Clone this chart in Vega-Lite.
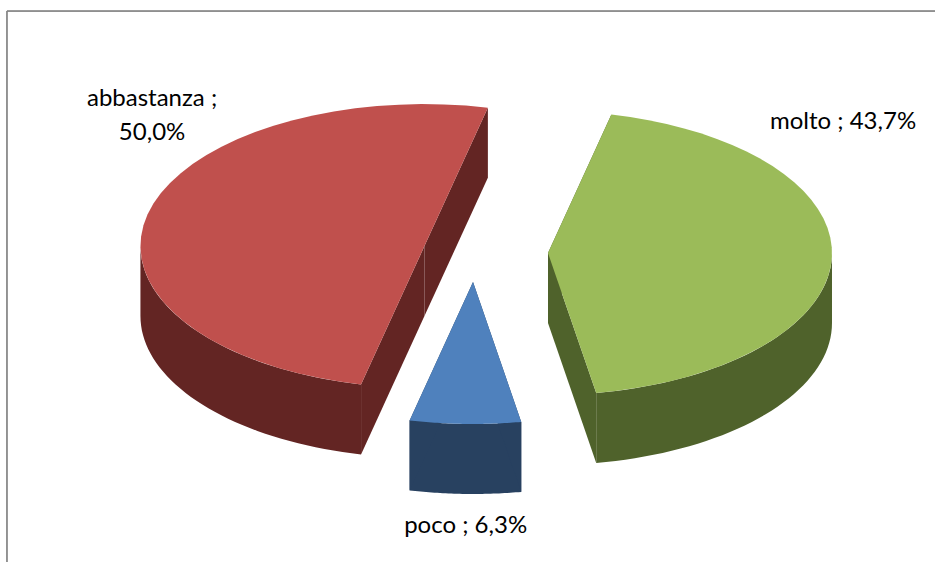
{
  "$schema": "https://vega.github.io/schema/vega-lite/v6.json",
  "width": 935,
  "height": 562,
  "padding": 0,
  "autosize": "none",
  "background": "white",
  "config": {"view": {"stroke": null}},
  "data": {"values": [
    {"category": "abbastanza", "value": 50.0},
    {"category": "molto", "value": 43.7},
    {"category": "poco", "value": 6.3}
  ]},
  "transform": [
    {"stack": "value", "groupby": [], "sort": [{"field": "category", "order": "ascending"}], "as": ["v0", "v1"]},
    {"calculate": "{'abbastanza': -0.215, 'molto': 0.22, 'poco': -0.044}[datum.category]", "as": "ex"},
    {"calculate": "{'abbastanza': 0.049, 'molto': 0, 'poco': -0.204}[datum.category]", "as": "ey"},
    {"calculate": "(192.9 + 3.6 * datum.v0) * PI / 180", "as": "a0"},
    {"calculate": "(192.9 + 3.6 * datum.v1) * PI / 180", "as": "a1"}
  ],
  "resolve": {"scale": {"fill": "independent"}},
  "layer": [
    {
      "transform": [
        {"calculate": "datum.a0 > 2 * PI ? 2 * PI : 0", "as": "wrap"},
        {"calculate": "max(datum.a0 - datum.wrap, PI / 2)", "as": "lo"},
        {"calculate": "min(datum.a1 - datum.wrap, 3 * PI / 2)", "as": "hi"},
        {"calculate": "sequence(0, 82)", "as": "i"},
        {"flatten": ["i"]},
        {"calculate": "datum.i <= 40 ? datum.i / 40 : (81 - datum.i) / 40", "as": "f"},
        {"calculate": "datum.lo + datum.f * (datum.hi - datum.lo)", "as": "ang"},
        {"calculate": "datum.ex + sin(datum.ang)", "as": "px"},
        {"calculate": "datum.ey + cos(datum.ang) - (datum.i <= 40 ? 0 : 0.493)", "as": "py"}
      ],
      "mark": {"type": "line", "filled": true, "strokeWidth": 0, "interpolate": "linear"},
      "encoding": {
        "x": {"field": "px", "type": "quantitative", "scale": {"domain": [-1.7095, 1.5827]}, "axis": null},
        "y": {"field": "py", "type": "quantitative", "scale": {"domain": [-2.176, 1.782]}, "axis": null},
        "order": {"field": "i", "type": "quantitative"},
        "fill": {"field": "category", "type": "nominal", "legend": null, "scale": {"domain": ["abbastanza", "molto", "poco"], "range": ["#632523", "#4F622B", "#284160"]}}
      }
    },
    {
      "transform": [
        {"calculate": "sequence(0, 8)", "as": "i"},
        {"flatten": ["i"]},
        {"calculate": "floor(datum.i / 4)", "as": "edge"},
        {"calculate": "datum.i % 4", "as": "j"},
        {"calculate": "datum.edge == 0 ? datum.a0 : datum.a1", "as": "ang"},
        {"calculate": "(datum.j == 1 || datum.j == 2) ? 0 : 1", "as": "r"},
        {"calculate": "datum.ex + datum.r * sin(datum.ang)", "as": "px"},
        {"calculate": "datum.ey + datum.r * cos(datum.ang) - (datum.j >= 2 ? 0.493 : 0)", "as": "py"}
      ],
      "mark": {"type": "line", "filled": true, "strokeWidth": 0, "interpolate": "linear"},
      "encoding": {
        "x": {"field": "px", "type": "quantitative", "scale": {"domain": [-1.7095, 1.5827]}, "axis": null},
        "y": {"field": "py", "type": "quantitative", "scale": {"domain": [-2.176, 1.782]}, "axis": null},
        "order": {"field": "i", "type": "quantitative"},
        "detail": {"field": "edge", "type": "nominal"},
        "fill": {"field": "category", "type": "nominal", "legend": null, "scale": {"domain": ["abbastanza", "molto", "poco"], "range": ["#632523", "#4F622B", "#284160"]}}
      }
    },
    {
      "transform": [
        {"calculate": "sequence(0, 42)", "as": "i"},
        {"flatten": ["i"]},
        {"calculate": "datum.a0 + (datum.i - 1) / 40 * (datum.a1 - datum.a0)", "as": "ang"},
        {"calculate": "datum.i == 0 ? 0 : 1", "as": "r"},
        {"calculate": "datum.ex + datum.r * sin(datum.ang)", "as": "px"},
        {"calculate": "datum.ey + datum.r * cos(datum.ang)", "as": "py"}
      ],
      "mark": {"type": "line", "filled": true, "strokeWidth": 0, "interpolate": "linear"},
      "encoding": {
        "x": {"field": "px", "type": "quantitative", "scale": {"domain": [-1.7095, 1.5827]}, "axis": null},
        "y": {"field": "py", "type": "quantitative", "scale": {"domain": [-2.176, 1.782]}, "axis": null},
        "order": {"field": "i", "type": "quantitative"},
        "fill": {"field": "category", "type": "nominal", "legend": null, "scale": {"domain": ["abbastanza", "molto", "poco"], "range": ["#C0504D", "#9BBB59", "#4F81BD"]}}
      }
    },
    {
      "transform": [
        {"calculate": "datum.category + (datum.category == 'abbastanza' ? ' ;|' : ' ; ') + replace(format(datum.value, '.1f'), '.', ',') + '%'", "as": "label"},
        {"calculate": "{'abbastanza': -1.174, 'molto': 1.259, 'poco': -0.07}[datum.category]", "as": "lx"},
        {"calculate": "{'abbastanza': 1.085, 'molto': 0.925, 'poco': -1.923}[datum.category]", "as": "ly"}
      ],
      "mark": {"type": "text", "font": "Lato", "fontSize": 24, "color": "#000000", "align": "center", "baseline": "middle", "lineBreak": "|", "lineHeight": 34},
      "encoding": {
        "x": {"field": "lx", "type": "quantitative", "scale": {"domain": [-1.7095, 1.5827]}, "axis": null},
        "y": {"field": "ly", "type": "quantitative", "scale": {"domain": [-2.176, 1.782]}, "axis": null},
        "text": {"field": "label", "type": "nominal"}
      }
    },
    {
      "mark": {"type": "rule", "color": "#868686", "strokeWidth": 1},
      "encoding": {
        "x": {"datum": -1.685, "type": "quantitative", "scale": {"domain": [-1.7095, 1.5827]}, "axis": null},
        "y": {"datum": 1.704, "type": "quantitative", "scale": {"domain": [-2.176, 1.782]}, "axis": null},
        "y2": {"datum": -2.176}
      }
    },
    {
      "mark": {"type": "rule", "color": "#868686", "strokeWidth": 1},
      "encoding": {
        "x": {"datum": -1.685, "type": "quantitative", "scale": {"domain": [-1.7095, 1.5827]}, "axis": null},
        "x2": {"datum": 1.5827},
        "y": {"datum": 1.704, "type": "quantitative", "scale": {"domain": [-2.176, 1.782]}, "axis": null}
      }
    }
  ]
}
